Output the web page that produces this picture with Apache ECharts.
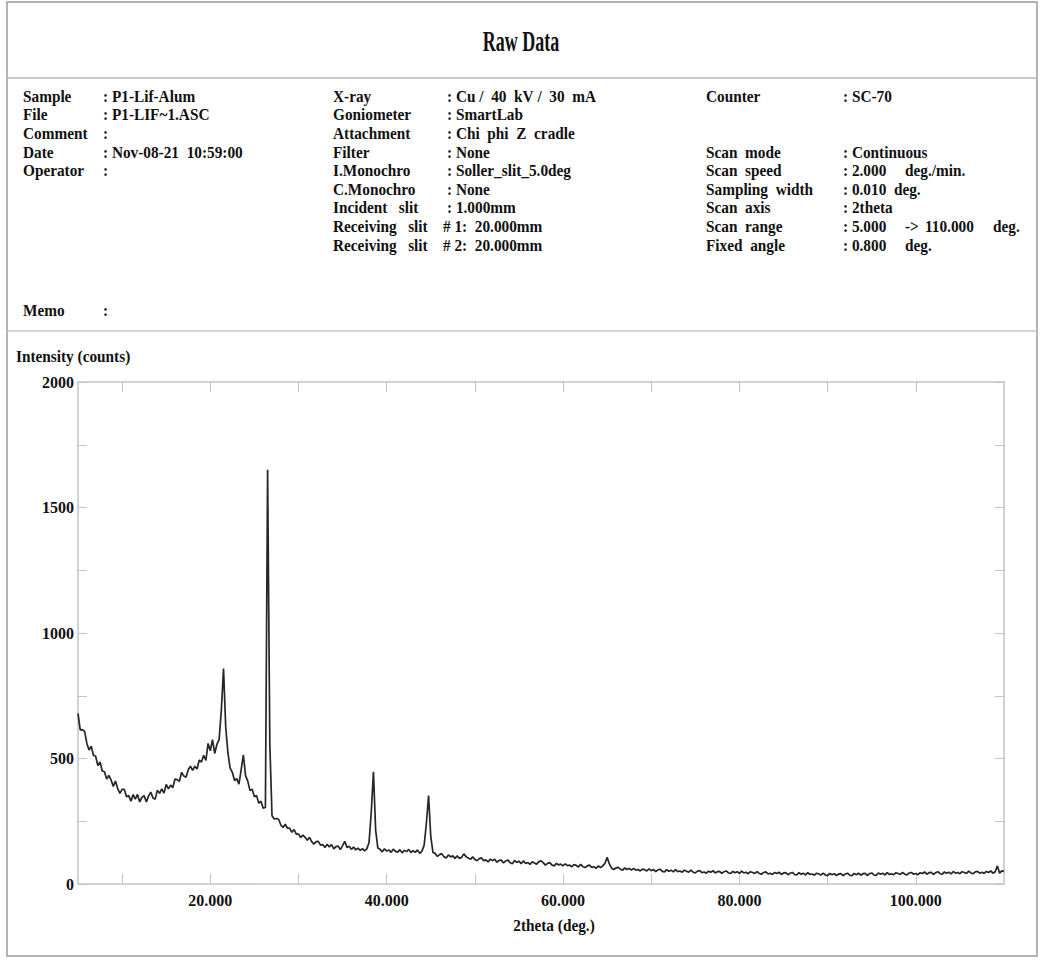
<!DOCTYPE html>
<html>
<head>
<meta charset="utf-8">
<script src="https://cdn.jsdelivr.net/npm/echarts@6/dist/echarts.min.js"></script>
<style>
  html, body { margin: 0; padding: 0; background: #ffffff; }
  #chart { width: 1042px; height: 961px; }
</style>
</head>
<body>
<div id="chart"></div>
<script>
// Scan grid (2theta, deg.)
const scanStart = 5.0;
const scanStep = 0.25;

// Measured intensity (counts), one value per scan step from 5.00 to 110.00 deg.
const counts = [
  680, 614, 615, 608, 561, 534, 549, 513, 509, 472, 486, 450, 447, 418, 433, 414, 389, 410, 380, 361, 377,
  377, 348, 352, 330, 356, 338, 357, 327, 345, 352, 327, 350, 366, 343, 338, 374, 361, 379, 362, 397,
  379, 394, 384, 418, 416, 409, 445, 430, 425, 455, 469, 453, 469, 458, 494, 486, 513, 492, 560, 531,
  575, 520, 556, 575, 690, 858, 625, 522, 462, 445, 412, 420, 398, 455, 514, 432, 410, 372, 378, 348, 352, 322, 330, 302, 305, 1650, 560, 272,
  259, 261, 258, 235, 225, 238, 222, 223, 206, 217, 199, 199, 185, 195, 186, 174, 186, 169, 159, 169, 170, 155, 157, 145, 158, 148, 157, 140, 149, 151, 137, 153,
  170, 146, 150, 138, 147, 136, 143, 134, 141, 132, 140, 165, 285, 447, 215, 143, 138, 128, 140, 131, 136, 126, 139, 130, 127, 137, 124, 134, 129, 138, 125, 133, 126, 136, 122, 131, 155, 240, 352, 190, 126,
  122, 110, 117, 121, 108, 104, 116, 108, 112, 102, 112, 102, 106, 120, 109, 104, 98, 108, 98, 93, 101, 104, 93, 96, 88, 99, 93, 99, 87, 94, 95, 84, 92, 96, 85, 81, 94, 86, 91, 81, 92, 82, 86, 78, 89, 84, 79, 89, 92,
  85, 75, 82, 85, 75, 72, 82, 76, 79, 72, 80, 73, 75, 69, 77, 74, 68, 78, 69, 66, 72, 75, 66, 69, 62, 72, 66, 72,
  82, 106, 80, 63,
  58, 64, 66, 59, 55, 64, 58, 62, 55, 62, 55, 58, 52, 59, 57, 52, 60, 53,
  58, 49, 56, 59, 50, 48, 57, 51, 55, 48, 57, 49, 52, 47, 55, 51, 47, 55, 47, 44,
  51, 53, 45, 48, 43, 51, 47, 53, 44, 49, 50, 42, 49, 52, 44, 42, 50, 45, 49, 42,
  51, 44, 47, 41, 49, 46, 42, 49, 42, 39, 46, 48, 40, 43, 38, 46, 42, 47, 38, 44,
  45, 37, 43, 46, 38, 36, 45, 39, 43, 36, 45, 38, 40, 35, 43, 40, 36, 43, 36, 33,
  42, 37, 41, 34, 40, 41, 33, 40, 43, 35, 33, 42, 37, 43, 35, 41, 42, 34, 41, 44,
  36, 34, 44, 39, 43, 36, 45, 38, 41, 37, 45, 42, 38, 46, 39, 36, 44, 46, 39, 42,
  37, 45, 42, 48, 39, 45, 46, 38, 45, 49, 41, 39, 48, 43, 47, 40, 50, 43, 46, 41,
  49, 46, 42, 51, 44, 41, 48, 50, 43, 47, 42, 50, 46, 52, 43, 49, 72, 43, 52, 50
];

// Axis ranges and tick positions
const xRange = [5, 110];
const xTickValues = [10, 20, 30, 40, 50, 60, 70, 80, 90, 100];
const xLabelValues = [20, 40, 60, 80, 100];
const yRange = [0, 2000];
const yTickStep = 250;
const yLabelStep = 500;

// Report header text
const titleText = 'Raw Data';
const infoLeft = [
  ['Sample', ': P1-Lif-Alum'],
  ['File', ': P1-LIF~1.ASC'],
  ['Comment', ':'],
  ['Date', ': Nov-08-21  10:59:00'],
  ['Operator', ':']
];
const infoMid = [
  ['X-ray', ': Cu /  40  kV /  30  mA'],
  ['Goniometer', ': SmartLab'],
  ['Attachment', ': Chi  phi  Z  cradle'],
  ['Filter', ': None'],
  ['I.Monochro', ': Soller_slit_5.0deg'],
  ['C.Monochro', ': None'],
  ['Incident   slit', ': 1.000mm'],
  ['Receiving   slit', '# 1:  20.000mm'],
  ['Receiving   slit', '# 2:  20.000mm']
];
// [row, label, value, extra pieces]
const infoRight = [
  [0, 'Counter', ': SC-70', []],
  [3, 'Scan  mode', ': Continuous', []],
  [4, 'Scan  speed', ': 2.000', [['unit', 'deg./min.']]],
  [5, 'Sampling  width', ': 0.010  deg.', []],
  [6, 'Scan  axis', ': 2theta', []],
  [7, 'Scan  range', ': 5.000', [['unit', '->'], ['end', '110.000'], ['tail', 'deg.']]],
  [8, 'Fixed  angle', ': 0.800', [['unit', 'deg.']]]
];
const memoRow = ['Memo', ':'];
const yAxisTitle = 'Intensity (counts)';
const xAxisTitle = '2theta (deg.)';

const seriesData = counts.map((c, i) => [scanStart + i * scanStep, c]);

const FONT_FAMILY = '"Liberation Serif", "Times New Roman", serif';
const INK = '#111111';
const AXIS_GREY = '#c4c4c4';

function nb(s) { return s.replace(/ /g, '\u00a0'); }

function label(x, y, text, size, opt) {
  opt = opt || {};
  return {
    type: 'text',
    x: x, y: y,
    scaleX: opt.scaleX || 0.9,
    z: 100,
    silent: true,
    style: {
      text: nb(text),
      x: 0, y: 0,
      font: 'bold ' + size + 'px ' + FONT_FAMILY,
      fill: INK,
      align: opt.align || 'left',
      textAlign: opt.align || 'left',
      verticalAlign: 'middle',
      textVerticalAlign: 'middle'
    }
  };
}

// column anchors of the header table
const colLeft = { label: 23, value: 103 };
const colMid = { label: 333, value: 447, slot: 443 };
const colRight = { label: 706, value: 843, unit: 905, end: 925, tail: 993 };
const rowY0 = 96;
const rowStep = 18.6;
const textSize = 17;
const graphics = [];

// frame and section dividers
graphics.push({ type: 'rect', z: 90, silent: true,
  shape: { x: 7, y: 2, width: 1030, height: 954 },
  style: { fill: 'none', stroke: '#9a9a9a', lineWidth: 1.5 } });
graphics.push({ type: 'line', z: 90, silent: true,
  shape: { x1: 7, y1: 78, x2: 1037, y2: 78 },
  style: { stroke: '#b8b8b8', lineWidth: 1.5 } });
graphics.push({ type: 'line', z: 90, silent: true,
  shape: { x1: 7, y1: 331, x2: 1037, y2: 331 },
  style: { stroke: '#c8c8c8', lineWidth: 1.5 } });

graphics.push(label(521, 41, titleText, 30, { align: 'center', scaleX: 0.6 }));

infoLeft.forEach((r, i) => {
  const y = rowY0 + i * rowStep;
  graphics.push(label(colLeft.label, y, r[0], textSize));
  graphics.push(label(colLeft.value, y, r[1], textSize));
});
infoMid.forEach((r, i) => {
  const y = rowY0 + i * rowStep;
  graphics.push(label(colMid.label, y, r[0], textSize));
  graphics.push(label(r[1].charAt(0) === '#' ? colMid.slot : colMid.value, y, r[1], textSize));
});
infoRight.forEach(r => {
  const y = rowY0 + r[0] * rowStep;
  graphics.push(label(colRight.label, y, r[1], textSize));
  graphics.push(label(colRight.value, y, r[2], textSize));
  r[3].forEach(p => graphics.push(label(colRight[p[0]], y, p[1], textSize)));
});
graphics.push(label(colLeft.label, 310, memoRow[0], textSize));
graphics.push(label(colLeft.value, 310, memoRow[1], textSize));

graphics.push(label(16, 356, yAxisTitle, textSize));
graphics.push(label(554, 925, xAxisTitle, textSize, { align: 'center' }));

const tickStyle = { show: true, inside: true, length: 10, lineStyle: { color: AXIS_GREY, width: 1 } };
const lineStyleAxis = { show: true, onZero: false, lineStyle: { color: AXIS_GREY, width: 1.5 } };
const axisLabelFont = { fontFamily: FONT_FAMILY, fontWeight: 'bold', fontSize: 16, color: INK };

const chart = echarts.init(document.getElementById('chart'), null, { renderer: 'svg', width: 1042, height: 961 });
chart.setOption({
  animation: false,
  backgroundColor: '#ffffff',
  grid: { left: 78, right: 38, top: 382, bottom: 77, containLabel: false },
  xAxis: [
    {
      type: 'value', min: xRange[0], max: xRange[1], position: 'bottom',
      axisLine: lineStyleAxis,
      axisTick: Object.assign({}, tickStyle, { customValues: xTickValues }),
      axisLabel: Object.assign({}, axisLabelFont, {
        customValues: xLabelValues, margin: 8,
        formatter: v => v.toFixed(3)
      }),
      splitLine: { show: false }
    },
    {
      type: 'value', min: xRange[0], max: xRange[1], position: 'top',
      axisLine: lineStyleAxis,
      axisTick: Object.assign({}, tickStyle, { customValues: xTickValues }),
      axisLabel: { show: false },
      splitLine: { show: false }
    }
  ],
  yAxis: [
    {
      type: 'value', min: yRange[0], max: yRange[1], interval: yTickStep, position: 'left',
      axisLine: lineStyleAxis,
      axisTick: Object.assign({}, tickStyle, { length: 9 }),
      axisLabel: Object.assign({}, axisLabelFont, {
        margin: 4,
        formatter: v => (v % yLabelStep === 0 ? String(v) : '')
      }),
      splitLine: { show: false }
    },
    {
      type: 'value', min: yRange[0], max: yRange[1], interval: yTickStep, position: 'right',
      axisLine: lineStyleAxis,
      axisTick: Object.assign({}, tickStyle, { length: 9 }),
      axisLabel: { show: false },
      splitLine: { show: false }
    }
  ],
  series: [{
    type: 'line',
    xAxisIndex: 0,
    yAxisIndex: 0,
    data: seriesData,
    showSymbol: false,
    symbol: 'none',
    sampling: 'none',
    lineStyle: { color: '#262626', width: 1.7 },
    emphasis: { disabled: true },
    z: 5
  }],
  graphic: graphics
});
</script>
</body>
</html>
